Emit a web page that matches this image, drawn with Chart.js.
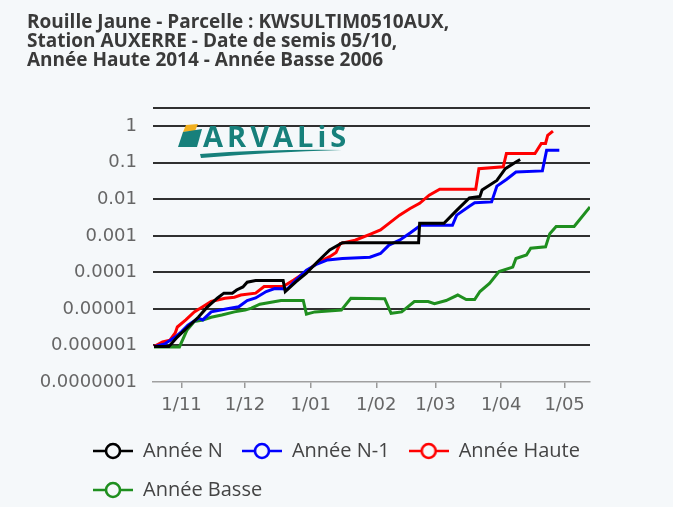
<!DOCTYPE html>
<html><head><meta charset="utf-8">
<script src="https://cdn.jsdelivr.net/npm/chart.js@4/dist/chart.umd.min.js"></script>
<style>html,body{margin:0;padding:0;background:#f5f8fa;}#wrap{width:673px;height:507px;}</style>
</head><body><div id="wrap"><canvas id="c" width="673" height="507"></canvas></div>
<script>
const titleLines = ['Rouille Jaune - Parcelle : KWSULTIM0510AUX,', 'Station AUXERRE - Date de semis 05/10,', 'Année Haute 2014 - Année Basse 2006'];
const xTickDays = [31, 61, 92, 123, 151, 182, 212];
const xTickLabels = ['1/11', '1/12', '1/01', '1/02', '1/03', '1/04', '1/05'];
const yTickValues = [1e-7, 1e-6, 1e-5, 1e-4, 1e-3, 1e-2, 1e-1, 1, 3.1623];
const yTickLabels = ['0.0000001', '0.000001', '0.00001', '0.0001', '0.001', '0.01', '0.1', '1', ''];
const seriesNames = ['Année N', 'Année N-1', 'Année Haute', 'Année Basse'];
const seriesColors = ['#000000', '#0000ff', '#ff0000', '#1f8f1f'];

const daysN = [18,25,29,34,39,43,48,51,55,57,60,62,66,79,80,85,90,95,101,107,143,143.5,155,161,167,172,173,180,184,189,191];
const valuesN = [9.3e-7,9.3e-7,1.7e-6,3.2e-6,6.0e-6,1.1e-5,2.0e-5,2.7e-5,2.7e-5,3.3e-5,4.0e-5,5.4e-5,6.0e-5,6.0e-5,3.0e-5,5.5e-5,9.5e-5,1.9e-4,4.1e-4,6.5e-4,6.5e-4,2.2e-3,2.2e-3,5.0e-3,1.1e-2,1.2e-2,1.8e-2,3.3e-2,6.9e-2,0.105,0.123];

const daysN1 = [18,23,28,31,34,39,41,45,52,58,62,66,71,75,81,85,90,95,100,107,120,125,129,134,139,144,159,161,167,169.5,177.5,180,184.5,189,201.5,203.5,209.5];
const valuesN1 = [9.3e-7,1.1e-6,1.7e-6,2.4e-6,3.6e-6,5.6e-6,5.0e-6,8.3e-6,1.0e-5,1.15e-5,1.7e-5,2.0e-5,3.0e-5,3.6e-5,3.5e-5,6.2e-5,1.15e-4,1.7e-4,2.2e-4,2.4e-4,2.6e-4,3.3e-4,5.6e-4,7.6e-4,1.2e-3,1.95e-3,1.95e-3,3.7e-3,6.5e-3,8.1e-3,8.5e-3,2.3e-2,3.5e-2,5.6e-2,6.0e-2,0.22,0.22];

const daysHaute = [18,22,25.5,28,29,33,37,41,45,51.5,56,59,66,70,79,84,90,95,101,104,106,113,120,125,129,134,139,143.5,148,153,170,171.5,183,184.5,198,201,203,204,206.5];
const valuesHaute = [9.3e-7,1.26e-6,1.4e-6,2.2e-6,3.2e-6,5.0e-6,8.3e-6,1.15e-5,1.6e-5,1.95e-5,2.1e-5,2.4e-5,2.7e-5,4.1e-5,4.1e-5,6.2e-5,1.05e-4,1.8e-4,2.7e-4,3.5e-4,6.2e-4,7.6e-4,1.1e-3,1.45e-3,2.2e-3,3.7e-3,5.6e-3,7.8e-3,1.3e-2,1.9e-2,1.9e-2,6.9e-2,7.8e-2,0.18,0.18,0.34,0.34,0.56,0.74];

const daysBasse = [18,30,33.5,37,41,45,50,56,61,64,68,78,88.5,90,94,106.5,111,127,130,135,141,147.5,150.5,156,161.5,165.5,169.5,172,176.5,181,187.5,189,194,196,203,205,208,216.5,224];
const valuesBasse = [9.1e-7,9.1e-7,2.6e-6,4.5e-6,5.0e-6,5.9e-6,6.8e-6,8.3e-6,9.3e-6,1.05e-5,1.35e-5,1.7e-5,1.7e-5,7.2e-6,8.3e-6,9.3e-6,1.95e-5,1.9e-5,7.6e-6,8.3e-6,1.6e-5,1.6e-5,1.4e-5,1.7e-5,2.4e-5,1.8e-5,1.8e-5,3.0e-5,5.0e-5,1.05e-4,1.4e-4,2.4e-4,3.0e-4,4.6e-4,5.0e-4,1.15e-3,1.8e-3,1.8e-3,6.2e-3];

const seriesDays = [daysN, daysN1, daysHaute, daysBasse];
const seriesValues = [valuesN, valuesN1, valuesHaute, valuesBasse];

const BG = '#f5f8fa';

function markerCanvas(color) {
  const c = document.createElement('canvas');
  c.width = 40; c.height = 20;
  const g = c.getContext('2d');
  g.strokeStyle = color; g.lineWidth = 2.6;
  g.beginPath(); g.moveTo(0, 10); g.lineTo(40, 10); g.stroke();
  g.fillStyle = BG;
  g.beginPath(); g.arc(20, 10, 7, 0, Math.PI * 2); g.fill(); g.stroke();
  return c;
}
const markers = seriesColors.map(markerCanvas);

const datasets = seriesNames.map((name, i) => ({
  label: name,
  data: seriesDays[i].map((d, k) => ({x: d, y: seriesValues[i][k]})),
  borderColor: seriesColors[i],
  backgroundColor: seriesColors[i],
  borderWidth: 3,
  pointRadius: 0,
  tension: 0,
  fill: false
}));

const bgPlugin = {
  id: 'bg',
  beforeDraw(chart) {
    const ctx = chart.ctx;
    ctx.save(); ctx.fillStyle = BG; ctx.fillRect(0, 0, chart.width, chart.height); ctx.restore();
  }
};

const logoPlugin = {
  id: 'logo',
  beforeDatasetsDraw(chart) {
    const ctx = chart.ctx;
    ctx.save();
    ctx.fillStyle = '#f2b01e';
    ctx.beginPath(); ctx.moveTo(186, 125); ctx.lineTo(198, 124); ctx.lineTo(195, 131); ctx.lineTo(183, 132); ctx.closePath(); ctx.fill();
    ctx.fillStyle = '#17807b';
    ctx.beginPath(); ctx.moveTo(183, 132); ctx.lineTo(202, 129); ctx.lineTo(197, 147); ctx.lineTo(178, 147); ctx.closePath(); ctx.fill();
    ctx.font = 'bold 29px "Open Sans"';
    if ('letterSpacing' in ctx) ctx.letterSpacing = '4px';
    ctx.textBaseline = 'alphabetic';
    ctx.textAlign = 'left';
    ctx.fillText('ARVALiS', 203, 147);
    ctx.beginPath();
    ctx.moveTo(200, 154); ctx.quadraticCurveTo(270, 149, 342, 150);
    ctx.quadraticCurveTo(270, 152, 201, 158); ctx.closePath(); ctx.fill();
    ctx.restore();
  }
};

const legendShift = {
  id: 'legendShift',
  afterLayout(chart) {
    const lg = chart.legend;
    lg.left = 74; lg.right = 673;
    lg.top += 3; lg.bottom += 3;
  }
};

new Chart(document.getElementById('c'), {
  type: 'line',
  data: {datasets},
  plugins: [bgPlugin, logoPlugin, legendShift],
  options: {
    responsive: false,
    animation: false,
    devicePixelRatio: 1,
    layout: {padding: {left: 27, right: 83, top: 0, bottom: 0}},
    plugins: {
      title: {
        display: true,
        text: titleLines,
        align: 'start',
        color: '#3a3a3a',
        font: {family: '"Open Sans"', size: 19, weight: 'bold', lineHeight: 1.0},
        padding: {top: 13, bottom: 38}
      },
      legend: {
        position: 'bottom',
        align: 'start',
        labels: {
          usePointStyle: true,
          pointStyleWidth: 40,
          padding: 19,
          color: '#444',
          font: {family: '"Open Sans"', size: 20},
          generateLabels: (chart) => seriesNames.map((n, i) => ({
            text: n, pointStyle: markers[i], fillStyle: seriesColors[i], strokeStyle: seriesColors[i],
            lineWidth: 0, hidden: false, datasetIndex: i, fontColor: '#444'
          }))
        }
      },
      tooltip: {enabled: false}
    },
    scales: {
      x: {
        type: 'linear',
        min: 17.5,
        max: 224,
        afterBuildTicks: (s) => { s.ticks = xTickDays.map(v => ({value: v})); },
        afterFit: (s) => { s.height = 37; },
        ticks: {
          callback: (v, i) => xTickLabels[i],
          color: '#666',
          font: {family: '"DejaVu Sans"', size: 18},
          padding: 7,
          maxRotation: 0,
          autoSkip: false
        },
        grid: {drawOnChartArea: false, drawTicks: true, tickLength: 6, color: '#999', lineWidth: 1.5},
        border: {display: true, color: '#a0a0a0', width: 1.5}
      },
      y: {
        type: 'logarithmic',
        min: 1e-7,
        max: 3.1623,
        afterBuildTicks: (s) => { s.ticks = yTickValues.map(v => ({value: v})); },
        afterFit: (s) => { s.width = 126; },
        ticks: {
          callback: (v, i) => yTickLabels[i],
          color: '#666',
          font: {family: '"DejaVu Sans"', size: 18},
          padding: 16,
          autoSkip: false
        },
        grid: {
          drawTicks: false,
          color: (c) => (c.index === 0 ? 'rgba(0,0,0,0)' : '#303030'),
          lineWidth: 2
        },
        border: {display: false}
      }
    }
  }
});
</script></body></html>
